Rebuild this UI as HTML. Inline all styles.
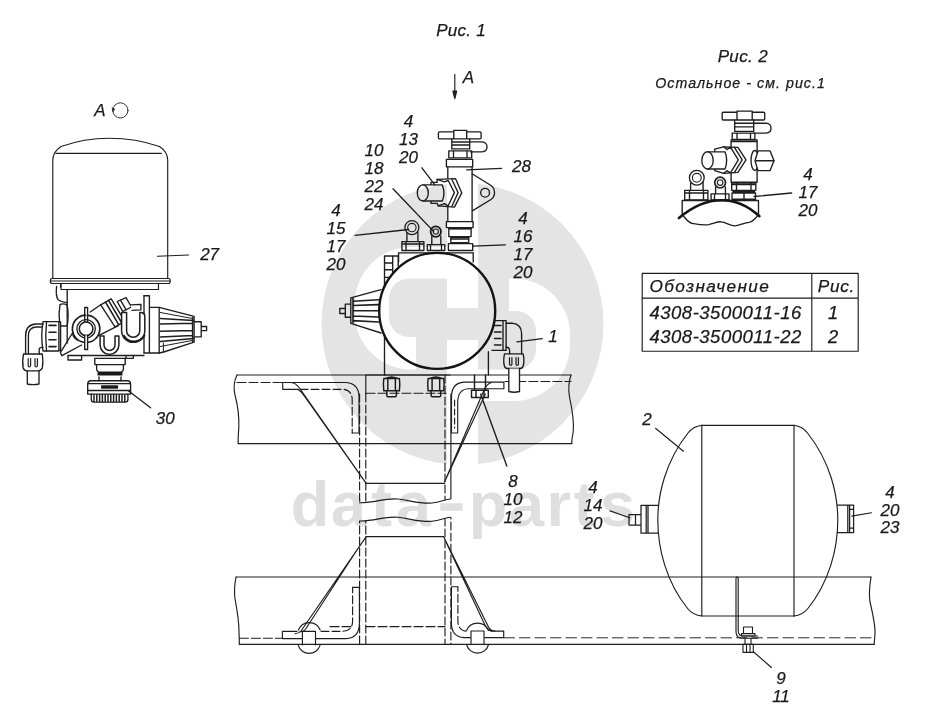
<!DOCTYPE html>
<html><head><meta charset="utf-8">
<style>
html,body{margin:0;padding:0;background:#fff;}
body{width:927px;height:727px;overflow:hidden;}
svg{display:block;}
text{font-family:"Liberation Sans",sans-serif;}
.l{font-style:italic;font-size:17px;fill:#1a1a1a;text-anchor:middle;stroke:#1a1a1a;stroke-width:0.25px;}
.d{fill:none;stroke:#1e1e1e;stroke-width:1.15;stroke-linecap:round;stroke-linejoin:round;}
</style></head><body>
<svg width="927" height="727" viewBox="0 0 927 727">
<!-- DRAWINGS -->
<g id="draw" class="d">
<!-- canister -->
<path d="M52.8 278.5 V160 Q52.8 152 61 146.5 Q84 138.2 109 138.2 Q136 138.2 159.5 146.5 Q167.7 152 167.7 160 V278.5"/>
<path d="M56 153.4 H161.3" stroke-width="1.3"/>
<path d="M52 278.5 H168.5 Q170.3 278.5 170.3 281 Q170.3 283.5 168.5 283.5 H52 Q50.3 283.5 50.3 281 Q50.3 278.5 52 278.5 Z M51 281 H169.5" />
<path d="M61 284 V289.5 H158.5 V284"/>
<path d="M157.5 256.2 L188.5 255"/>
<!-- dryer valve body (side view) -->
<g id="valveA" stroke-width="1.35">
<path d="M67.2 289.5 V343 M144 295.7 V353 M68 355.5 H144"/>
<path d="M56.6 286.5 Q55.5 296 58.1 299.7 Q62 302.5 66.8 302.7 M61 284 L60.5 287"/>
<path d="M60 304.6 Q58.4 314 59.6 322 M60 304.6 Q63.5 303 67.2 305.2 M67.2 305.2 Q69 315 67.2 326 M60.4 326 H67.2"/>
<!-- elbow -->
<path d="M43 324 H36 Q25.6 324.5 25.6 336 V354 M39.2 354 V349 Q39.5 347.3 43 347.3 M41.5 327 H36 Q28.4 327.5 28.4 336 V353.4"/>
<path d="M43 322 Q40.5 336 43 351 H58.9 V321.6 H43 Z M58.9 322 H60.6 V350.5 H58.9" />
<path d="M49 325.4 H56 M49 332.2 H56 M49 339.8 H56 M49 346.6 H56" stroke-width="1.6"/>
<path d="M46.5 322 Q45 336 46.5 351"/>
<path d="M23.5 354 H42.3 Q43.5 362 42.3 368 Q41 370.8 38 370.8 H27.5 Q24 370.8 23.2 368 Q22 362 23.5 354 Z"/>
<path d="M28.2 358.5 V366 Q29.4 368 30.6 366 V358.5 M35 358.5 V366 Q36.2 368 37.4 366 V358.5" stroke-width="1.2"/>
<path d="M27.3 371 V384 Q33 385.2 39 384 V371"/>
<!-- port circle with T handle -->
<circle cx="86.1" cy="328.8" r="13.7" stroke-width="1.7"/>
<circle cx="86.1" cy="328.8" r="9.2"/>
<circle cx="86.1" cy="328.8" r="6.8" stroke-width="1.5"/>
<path d="M84.7 307.5 H87.6 V321.5 M84.7 307.5 V321.5 M84.7 335.5 V349.5 H87.6 V335.5" fill="#fff"/>
<!-- diagonal pipe -->
<path d="M90.3 312 L100.7 304.8 M98.5 335.6 L118.3 325.7"/>
<path d="M100.7 304.8 L111.2 298.8 L124.9 321.3 L115 326.8 Z" fill="#fff"/>
<path d="M105.5 302 L118.7 324.7 M108.5 300.3 L121.8 323" stroke-width="1.5"/>
<path d="M117.2 301.5 L126 297.7 L131.5 307 L122.7 311.4 Z" fill="#fff"/><path d="M120.5 300.1 L126 309.7" />
<path d="M130.4 304.8 L140.9 304.3 V309.8 L132 310.3" fill="#fff"/>
<!-- U shapes -->
<path d="M121.6 312.5 V330.7 A11.6 11.6 0 0 0 144.8 330.7 V316 Q144.6 313 141.4 312.5 H139.8 V330.7 A6.6 6.6 0 0 1 126.6 330.7 V312.5 Z" fill="#fff" stroke-width="1.5"/>
<path d="M124 336 A11.8 11.8 0 0 0 144.3 335.5" stroke-width="2.2"/>
<path d="M100.1 336 V345 A9.4 9.4 0 0 0 118.9 345 V336 H115 V345 A5.5 5.5 0 0 1 104 345 V336 Z" fill="#fff" stroke-width="1.5"/>
<!-- lower left diagonals -->
<path d="M60.4 352.6 L72.5 333 M61.9 355.7 L81.6 345 M60.4 352.6 L61.9 355.7 M68 355.7 V360 H81.6 V355.7"/>
<path d="M72.5 333 Q73 338 78 340.5"/>
<!-- right plate + cone -->
<path d="M144 295.7 H149.4 V307.4 M149.4 307.4 H159.2 V353 H144 M149.4 307.4 V353"/>
<path d="M159.2 307.4 L194.1 316.3 V342.2 L163.7 352 L159.2 353"/>
<path d="M194.1 321.7 H201.2 V336.9 H194.1 M201.2 326.5 H206.6 V330.6 H201.2"/>
<path d="M160.3 318.4 L193.4 320.4 M160.3 324 L192.6 323.2 M160.3 331.3 L192.6 330.6 M160.3 337 L192.6 335.4 M160.3 341.5 L193.4 338.6 M192.6 317.5 V341.5" stroke-width="1.5"/><path d="M160.3 312.5 L193 318.6 M160.3 346.5 L193 340.3 M163.4 343 V351.8" stroke-width="1"/>
<!-- neck and cap -->
<path d="M94.8 358.3 H125.2 V364.6 H94.8 Z M96.6 364.6 V369 Q96.6 371 98 371.5 M123.4 364.6 V369 Q123.4 371 122 371.5 M126 355.7 V358.3 H133.3 V355.7"/>
<path d="M97.5 373.5 H122.5" stroke-width="4" stroke="#1a1a1a" stroke-linecap="butt"/>
<path d="M99 377 V380.7 M121 377 V380.7"/>
<path d="M87.7 394.1 V384 Q87.7 380.7 91 380.7 H127.3 Q130.6 380.7 130.6 384 V394.1 Z M87.7 383.6 H130.6 M87.7 390.5 H130.6"/>
<path d="M101.1 387 H118.1" stroke-width="3.4" stroke="#1a1a1a" stroke-linecap="butt"/>
<path d="M91.3 394.1 V399.5 Q91.3 402.1 94 402.1 H125.2 Q127.9 402.1 127.9 399.5 V394.1"/>
<path d="M94 395 V401.5 M96.8 395 V401.5 M99.6 395 V401.5 M102.4 395 V401.5 M105.2 395 V401.5 M108 395 V401.5 M110.8 395 V401.5 M113.6 395 V401.5 M116.4 395 V401.5 M119.2 395 V401.5 M122 395 V401.5 M124.8 395 V401.5" stroke-width="1.5"/>
<path d="M128.6 391 L150.6 407.8"/>
</g>
<!-- arrow A and circle A -->
<path d="M454.8 74.6 V97"/><path d="M454.8 98.7 L452.9 91 H456.7 Z" fill="#222"/>
<circle cx="120.4" cy="110.4" r="7.6" stroke-width="0.9"/><path d="M112.9 111.5 L112 107.8 L114.6 109 Z" fill="#222" stroke-width="0.6"/>
<!-- FRAME RAILS -->
<g id="rails">
<path d="M237 375 H571 M238.2 443.6 H571.8"/>
<path d="M237 375 Q232.5 384 235 395 Q239.5 412 238.8 428 Q238 438 238.2 443.6"/>
<path d="M571 375 Q567.5 385 569.5 397 Q574.5 420 573.2 432 Q571.6 440 571.8 443.6"/>
<path d="M237 382.5 H283 M504.9 381.5 H571" stroke-dasharray="9 3"/>
<path d="M236 577 H871 M239.4 644.4 H874.1"/>
<path d="M236 577 Q233.5 590 235.2 600 Q239 620 239 632 L239.4 644.4"/>
<path d="M871 577 Q868.5 592 870 602 Q875.5 625 875 634 L874.1 644.4"/>
<path d="M239.4 638.2 H283" stroke-dasharray="9 3"/><path d="M504 637.8 H874" stroke-dasharray="10.5 5" stroke-width="0.95"/>
</g>
<!-- BRACKET -->
<g id="bracket">
<!-- post -->
<path d="M365.8 375 V394 M450.9 394 V500 M365.8 375 H450"/>
<path d="M359.6 394 V644 M365.8 394 V644 M445 375 V644 M450.9 500 V644" stroke-dasharray="8 3"/>
<path d="M366 393.2 H446" stroke-dasharray="9 3"/>
<!-- upper L angles -->
<path d="M282.7 382.5 H346 Q359 383.5 359 397 V433 H352.2 M282.7 382.5 V389.3 H298"/>
<path d="M300 389.3 H343 Q352.2 390 352.2 400 V433" stroke-dasharray="8 3"/>
<path d="M503.9 382.1 H464 Q451.5 383 451.5 397 V433 H457.7 V402 Q458 389.5 468 388.7 H503.9 Z"/>
<path d="M454.6 400 V428" stroke-dasharray="6 3"/>
<!-- upper gussets -->
<path d="M291 382.5 Q296 383 299.5 388 L365.8 482.8 M297.8 389.3 Q302 392 305 397 L365.8 482.8" />
<path d="M491.3 382.5 Q487 384 484.5 389 L444.6 481.8 M485.4 394.1 L444.6 481.8"/>
<path d="M365.8 483.4 H444.6"/>
<!-- break lines -->
<path d="M357 502.7 H359.6 C375 503 385 497.5 398 499 C412 500.8 420 504 432 503 C440 502 445 499.5 450.4 499 H453 V517.3 H450.4 C445 517.8 440 520.3 432 521.3 C420 522.3 412 519.1 398 517.3 C385 515.8 375 521.3 359.6 521 H357 Z" fill="#fff" stroke="none"/>
<path d="M359.6 502.7 C375 503 385 497.5 398 499 C412 500.8 420 504 432 503 C440 502 445 499.5 450.4 499"/>
<path d="M359.6 521 C375 521.3 385 515.8 398 517.3 C412 519.1 420 522.3 432 521.3 C440 520.3 445 517.8 450.4 517.3"/>
<!-- lower trapezoid -->
<path d="M366.2 536.6 H443.5"/>
<path d="M366.2 536.6 L301 631 Q299 633.5 295 633.8 M359.6 546 L306 628.5 Q303.5 632 299 632"/>
<path d="M443.5 536.6 L488.5 627 Q490.5 631 495 631.1 M446 542 L484 623 Q487 630 491 631"/>
<!-- lower L angles -->
<path d="M282.4 631.3 H297 M282.4 631.3 V638.6 H302 M316 638.6 H346 Q359 638 359.4 624 V587.4 H352.6"/>
<path d="M321 631.3 H343 Q352.6 630.5 352.6 621 V587.4" stroke-dasharray="8 3"/>
<path d="M503.7 631.1 H491 M503.7 631.1 V637.6 H484.5 M470.5 637.6 H464 Q452 637 451.4 624 V586.7 H457.9"/>
<path d="M466 631.1 Q457.9 630 457.9 621 V586.7" stroke-dasharray="8 3"/>
<path d="M330 626.6 H352 M366 626.6 H445" stroke-dasharray="9 3"/>
<!-- rivets -->
<path d="M302.4 631.3 H315.5 V645 M302.4 631.3 V645 M298.4 630 A11.7 11.7 0 0 1 320.2 630 M298.3 645.3 A11.3 11.3 0 0 0 320 645.3"/>
<path d="M471 631 H484 V644.6 M471 631 V644.6 M466.6 630.5 A11.7 11.7 0 0 1 488.4 630.5 M466.7 645 A11.3 11.3 0 0 0 488.4 645"/>
</g>
<!-- TANK -->
<g id="tank">
<path d="M701.8 425.3 H794 M701.8 616 H794.5 M701.8 425.3 V616 M794 425.3 V616"/>
<path d="M701.8 425.3 Q693 426.5 688 433 C665 462 657.8 495 657.8 520 C657.8 548 666 582 688 609 Q693 615 701.8 616"/>
<path d="M794 425.3 Q802.5 426.5 807.5 433 C830.5 462 837.8 495 837.8 520 C837.8 548 829.5 582 807.5 609 Q802.5 615 794 616"/>
<path d="M655.5 428.3 L683.4 451.2 M610 510.9 L629.7 517.7 M851.7 516.1 L871.5 512.8"/>
<path d="M641 505.3 H658 M641 533.2 H658 M641 505.3 V533.2 M646.2 505.3 V533.2 M648 505.3 V533.2 M629 514.6 H641 V525 H629 Z M635.5 514.6 V525" stroke-width="1.25"/>
<path d="M837.4 505.1 H853.6 V532.5 H837.4 M847.8 505.1 V532.5 M849.6 505.1 V532.5 M849.6 509.3 H853.6 M849.6 528.2 H853.6" stroke-width="1.25"/>
<!-- strap & bolt -->
<path d="M736 577.8 V632 Q736.3 638.2 742 638.2 H757.8 M738.2 577.8 V631 Q738.5 636 743 636 H757.8 M736 577.8 Q737 576.5 738.2 577.8" />
<path d="M743.5 627 H752.5 V633.6 H743.5 Z M741.5 633.6 H755 V636 H741.5 Z M743 644.4 H753.3 V652.4 H743 Z M745 638.2 V644.4 M751 638.2 V644.4 M746.5 644.4 V652.4 M750 644.4 V652.4" stroke-width="1.1"/>
<path d="M753.3 651.8 L771.4 667.5"/>
</g>
<!-- TOP VIEW -->
<g id="topview" stroke-width="1.35">
<!-- body -->
<path d="M384.5 256 V375 M398.6 252.8 H473.5 M473.2 252.8 V262 M488.4 351.7 V375 M384.5 256 H398.2 M384.5 277.3 H390 M392.7 256 V275 M398.2 256 V266 M398.6 252.8 V262 M384.5 263 H392.7 M384.5 269.7 H392.7"/>
<!-- left cone -->
<path d="M381 289.7 L350.8 297.9 V323.4 L381 333 M345.3 304.1 H350.8 M345.3 317.2 H350.8 M345.3 304.1 V317.2 M339.8 308.5 H345.3 M339.8 313.5 H345.3 M339.8 308.5 V313.5"/>
<path d="M353 301.2 L378.5 299.8 M353 305.5 L378.5 304.6 M353 310.8 H378.5 M353 316 L378.5 317 M353 320.6 L378.5 322 M353 298.5 V322.8" stroke-width="1.6"/>
<!-- right elbow -->
<path d="M493.5 320.6 H506.1 V350.4 H492 M503 320.6 V350.4"/>
<path d="M494.5 325.5 H501 M494.5 332 H501 M494.5 338.5 H501 M494.5 345 H501" stroke-width="1.5"/>
<path d="M506.1 323.2 H512 Q521.6 324 521.6 334 V353.8 M506.1 347 Q509.5 347.3 509.6 350 V353.8"/>
<path d="M504.5 353.8 H523.2 Q524.6 361 523.2 366 Q522.5 368.5 520 368.5 H507.5 Q505 368.5 504.4 366 Q503 361 504.5 353.8 Z"/>
<path d="M509.5 357.5 V364.5 Q510.7 366.3 511.9 364.5 V357.5 M516 357.5 V364.5 Q517.2 366.3 518.4 364.5 V357.5" stroke-width="1.2"/>
<path d="M508.8 368.5 V391.5 Q514 393 519.5 391.5 V368.5" fill="#fff"/>
<path d="M516.9 341.8 L542.3 338.7"/>
<!-- main circle -->
<circle cx="437.2" cy="310.9" r="58" stroke-width="2.4" fill="#fff" stroke="#151515"/>
<!-- bolts under body -->
<g><path d="M383.8 378.5 Q383 384 383.8 390.8 H399.4 Q400.2 384 399.4 378.5 Z M387.8 378.5 V390.8 M395.4 378.5 V390.8 M386.8 390.8 V395.6 Q386.8 396.8 388 396.8 H395.2 Q396.4 396.8 396.4 395.6 V390.8 M385.5 378.5 Q391.6 375.5 397.7 378.5" stroke-width="1.45"/></g>
<g transform="translate(44.3,0)"><path d="M383.8 378.5 Q383 384 383.8 390.8 H399.4 Q400.2 384 399.4 378.5 Z M387.8 378.5 V390.8 M395.4 378.5 V390.8 M386.8 390.8 V395.6 Q386.8 396.8 388 396.8 H395.2 Q396.4 396.8 396.4 395.6 V390.8 M385.5 378.5 Q391.6 375.5 397.7 378.5" stroke-width="1.45"/></g>
<path d="M474.5 375 V390.2 M485.5 375 V390.2 M471.5 390.2 H488.3 V397.5 H471.5 Z M476 390.2 V397.5 M484 390.2 V397.5" stroke-width="1.45"/>
<path d="M480.6 394.1 L506.8 466"/>
<!-- valve 28 -->
<path d="M438.4 133 Q438.4 131.9 439.5 131.9 H453.8 V130.3 H466.7 V131.9 H480 Q481.1 131.9 481.1 133 V137.8 Q481.1 138.9 480 138.9 H439.5 Q438.4 138.9 438.4 137.8 Z M453.8 131.9 V138.9 M466.7 131.9 V138.9"/>
<path d="M451.8 138.9 V148.9 H469.7 V138.9 M451.8 142 H469.7 M451.8 145 H469.7"/>
<path d="M469.7 141.9 H482 Q487 142.3 487 147 Q487 151.6 482 151.9 H470.5"/>
<path d="M448.8 150.9 H471.7 V157.9 H448.8 Z M453.5 150.9 V157.9 M467 150.9 V157.9"/>
<path d="M446.4 159.3 H472.7 V166.8 H446.4 Z"/>
<path d="M447.8 166.8 V221.6 M472.1 166.8 V221.6"/>
<path d="M446.4 221.6 H473.1 V227.6 H446.4 Z"/>
<path d="M448.8 228.6 H471.1 V236.6 H448.8 Z M450.8 237.6 H468.7 V242.6 H450.8 Z M448.4 243.6 H472.7 V250.5 H448.4 Z" />
<path d="M449 228.6 H471 M451 239 H468.5" stroke-width="1.6"/>
<!-- ear -->
<path d="M472.1 173.8 L491 185.5 Q494.5 188 494.5 192.7 Q494.5 197 491 199.5 L472.7 210.7"/>
<circle cx="485.1" cy="192.7" r="4.4"/>
<!-- side port -->
<path d="M431 182.4 H437.1 V179.3 L455.6 178.7 L461.8 192.9 L454.4 207.1 L438.3 205.9 L437.1 203.4 H431 Z" fill="#fff"/>
<path d="M448.2 180.5 L454.4 192.6 L448.2 205.8 M451.9 179.5 L458.1 192.6 L451.9 206.3 M437.1 179.3 L444.5 181.8 M438.3 205.9 L444.5 203.6 M444.5 181.8 L448.2 180.5 M444.5 203.6 L448.2 205.8"/>
<path d="M422.8 184.9 H442.3 Q445.6 192.9 442.3 201 H422.8 Z" fill="#fff"/>
<ellipse cx="422.8" cy="192.9" rx="5.5" ry="8" fill="#fff"/>
<!-- banjo 15 -->
<circle cx="411.9" cy="227.6" r="7" stroke-width="1.3"/><circle cx="411.9" cy="227.6" r="4.2" stroke-width="1.1"/>
<path d="M406.9 233 V241.6 M417.9 232 V241.6 M401.9 241.6 H423.9 V250.5 H401.9 Z M406 241.6 V250.5 M419.5 241.6 V250.5 M403 244 H423" />
<!-- small fitting 22/24 -->
<circle cx="435.8" cy="231.6" r="5.2" stroke-width="1.8"/><circle cx="435.8" cy="231.6" r="2.6" stroke-width="1.1"/>
<path d="M431.8 236 V244.6 M440.8 236 V244.6 M427.3 244.6 H444.8 V250.5 H427.3 Z M430.5 244.6 V250.5 M441.5 244.6 V250.5"/>
<!-- leaders -->
<path d="M421.9 167.8 L434.8 184.8 M393 188.8 L433.8 231.6 M466.7 169.8 L501.6 168.4 M355.2 235.4 L408.7 229.5 M472.7 246.2 L505.2 244.8"/>
</g>
<!-- FIG 2 -->
<g id="fig2" stroke-width="1.35">
<path d="M722.2 113.3 Q722.2 112.2 723.3 112.2 H737 V111.1 H752.2 V112.2 H763.6 Q764.7 112.2 764.7 113.3 V118.9 Q764.7 120 763.6 120 H723.3 Q722.2 120 722.2 118.9 Z M737 112.2 V120 M752.2 112.2 V120"/>
<path d="M734.7 120 V131.3 H753.7 V120 M734.7 123.2 H753.7 M734.7 126.8 H753.7"/>
<path d="M753.7 123.2 H766 Q771 123.6 771 128.2 Q771 132.7 766 133.1 H754"/>
<path d="M732.2 133.1 H754.9 V139.3 H732.2 Z M737 133.1 V139.3 M750.5 133.1 V139.3"/>
<path d="M731.1 139.8 H757.1 M731.1 141.5 H757.1 M731.1 139.8 V182.2 M757.1 139.8 V182.2 M731.1 182.2 H757.1"/>
<!-- left port -->
<path d="M714.7 149.2 L723.6 146.8 L737.9 147.4 L746 159.9 L737.9 172.4 L723.6 173.3 L714.7 170.6 Z" fill="#fff"/>
<path d="M730.5 147.1 L738.3 159.9 L730.5 172.9 M734.3 147.2 L742.2 159.9 L734.3 172.6 M723.6 146.8 L727 149.5 M723.6 173.3 L727 170.8 M727 149.5 L730.5 147.1 M727 170.8 L730.5 172.9"/>
<path d="M707.5 151.8 H725 Q728.4 160.4 725 169 H707.5 Z" fill="#fff"/>
<ellipse cx="707.5" cy="160.4" rx="5.7" ry="8.6" fill="#fff"/>
<!-- right hex plug -->
<ellipse cx="754.8" cy="160.5" rx="3.8" ry="10" fill="#fff"/>
<path d="M758 150.9 L770.1 150.9 L774 160.7 L770.1 170.6 L758 170.6 L755 160.7 Z" fill="#fff"/><path d="M756 160.7 H774"/>
<!-- bottom stack -->
<path d="M731.7 183.1 H755.8 V190.3 H731.7 Z M736.5 183.1 V190.3 M751 183.1 V190.3 M733 191.5 H754.5 M732 193 H755.5 V199.2 H732 Z M744 193 V199.2" />
<path d="M732 184.5 H755.5" stroke-width="1.5"/>
<!-- banjo -->
<circle cx="696.8" cy="177.8" r="7.4" stroke-width="1.3"/><circle cx="696.8" cy="177.8" r="4.4" stroke-width="1.1"/>
<path d="M690.6 183 V190.3 M703.1 182.5 V190.3 M684.7 190.3 H707.9 V200 H684.7 Z M689.5 190.3 V200 M703.5 190.3 V200 M685.5 193 H707"/>
<!-- small fitting -->
<circle cx="720.1" cy="182.6" r="5.4" stroke-width="1.7"/><circle cx="720.1" cy="182.6" r="2.8" stroke-width="1.1"/>
<path d="M715.6 187 V193.9 M725.4 187 V193.9 M711.1 193.9 H729 V199.8 H711.1 Z M714.5 193.9 V199.8 M725.5 193.9 V199.8"/>
<!-- base + arc -->
<path d="M682.2 200.5 H758.5 M682.2 200.5 V214.4 M758.5 200.5 V214.4"/>
<path d="M678.9 218 Q700 200.2 721.8 200.2 Q742 200.2 759.4 216.2" stroke-width="2.6" stroke="#151515"/>
<path d="M682.2 214.4 C686 219 688 223 693 223.6 C699 224.6 704 225.5 709 224.6 C714 223.5 717 221.6 721 221.8 C726 222 730 226 735 225.8 C741 225.5 744 222.5 749 222.3 C753 221.8 756 218 758.5 214.4"/>
<path d="M754 196.5 L791.6 193"/>
</g>
<!-- table -->
<path d="M642.2 273.3 H858.2 V351.2 H642.2 Z M642.2 298.1 H858.2 M811.8 273.3 V351.2"/>
</g>
<!-- LABELS -->
<g id="labels" class="l" transform="translate(0,-0.5)">
<text x="461" y="36.5" style="letter-spacing:0.25px">Рис. 1</text>
<text x="468.5" y="83.6">А</text>
<text x="99.8" y="116.4">А</text>
<text x="209.6" y="260">27</text>
<text x="165.2" y="424.7">30</text>
<text x="408.5" y="127.7">4</text><text x="408.5" y="145.5">13</text><text x="408.5" y="163.3">20</text>
<text x="374" y="156">10</text><text x="374" y="174">18</text><text x="374" y="192">22</text><text x="374" y="210">24</text>
<text x="521.5" y="172">28</text>
<text x="336" y="216">4</text><text x="336" y="234">15</text><text x="336" y="252">17</text><text x="336" y="270">20</text>
<text x="523" y="224">4</text><text x="523" y="242">16</text><text x="523" y="260">17</text><text x="523" y="278">20</text>
<text x="553" y="342.2">1</text>
<text x="513" y="487">8</text><text x="513" y="505.5">10</text><text x="513" y="523.5">12</text>
<text x="593" y="493">4</text><text x="593" y="511">14</text><text x="593" y="529">20</text>
<text x="647" y="425.3">2</text>
<text x="890" y="498">4</text><text x="890" y="516">20</text><text x="890" y="533.7">23</text>
<text x="781" y="684">9</text><text x="781" y="702">11</text>
<text x="742.8" y="62.7" style="letter-spacing:0.35px">Рис. 2</text>
<text x="740.6" y="88" style="font-size:14.2px;letter-spacing:1.05px">Остальное - см. рис.1</text>
<text x="808" y="180.7">4</text><text x="808" y="198.5">17</text><text x="808" y="216.2">20</text>
<text x="649.5" y="292.2" style="text-anchor:start;font-size:17.2px;letter-spacing:1.4px">Обозначение</text>
<text x="817.8" y="292.2" style="text-anchor:start;font-size:17.2px;letter-spacing:0.7px">Рис.</text>
<text x="649.5" y="319.9" style="text-anchor:start;font-size:18.5px;letter-spacing:0.5px">4308-3500011-16</text>
<text x="649.5" y="343.2" style="text-anchor:start;font-size:18.5px;letter-spacing:0.5px">4308-3500011-22</text>
<text x="833" y="319.9" style="font-size:18.3px">1</text>
<text x="833" y="343.2" style="font-size:18.3px">2</text>
</g>
<!-- WATERMARK -->
<g id="wm" fill="#e4e4e4" style="mix-blend-mode:multiply">
<circle cx="462.5" cy="324" r="141"/>
<g fill="#fff"><path d="M447 170 H478 V308 H447 Z"/><path d="M447 340 H478 V480 H447 Z"/>
<path d="M448 247 H411 A56 56 0 0 0 355 303 V313.5 A56 56 0 0 0 411 369.5 H416 V337 H409 A20 20 0 0 1 389 317 V298.5 A20 20 0 0 1 409 278.5 H448 Z"/>
<path d="M477 401 H514 A56 56 0 0 0 570 345 V334.5 A56 56 0 0 0 514 278.5 H509 V311 H516 A20 20 0 0 1 536 331 V349.5 A20 20 0 0 1 516 369.5 H477 Z"/></g>
<g fill="#dfdfdf"><text y="526" x="290.7 331 371 396 441.5 468.8 509 546.4 573.7 599.9" style="font-weight:bold;font-size:63px;text-anchor:start">data parts</text><rect x="440.3" y="503.2" width="22.4" height="7.6"/></g>
</g>
</svg>
</body></html>
